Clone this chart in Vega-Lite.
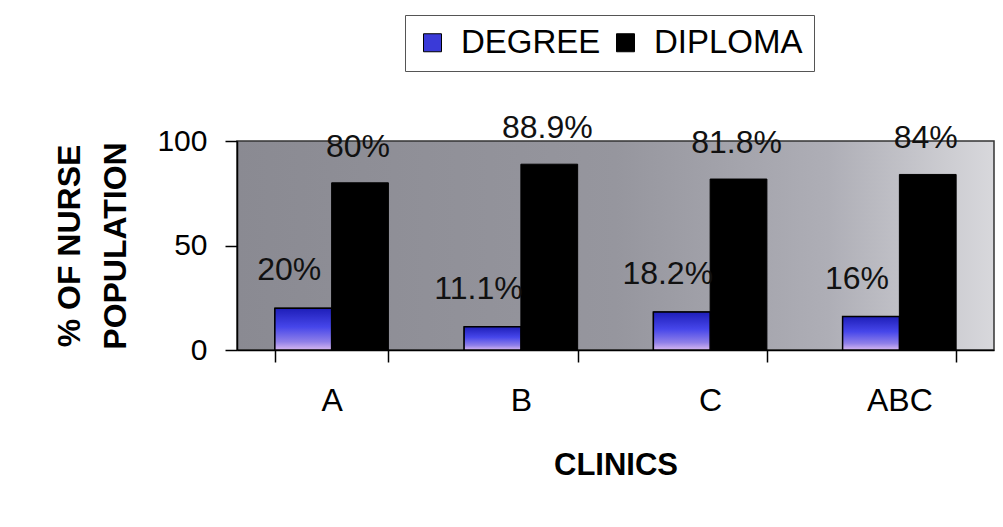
{
  "$schema": "https://vega.github.io/schema/vega-lite/v6.json",
  "width": 757,
  "height": 209,
  "autosize": {"type": "none"},
  "padding": {"left": 237, "top": 141, "right": 9, "bottom": 177},
  "background": "white",
  "config": {
    "font": "Liberation Sans",
    "view": {
      "stroke": "#333333",
      "strokeWidth": 1.5,
      "fill": {
        "gradient": "linear",
        "x1": 0, "y1": 0, "x2": 1, "y2": 0,
        "stops": [
          {"offset": 0, "color": "#8a8a92"},
          {"offset": 0.5, "color": "#96969e"},
          {"offset": 0.78, "color": "#aeaeb6"},
          {"offset": 1, "color": "#d8d8dc"}
        ]
      }
    },
    "axis": {"grid": false, "domainColor": "#000000", "tickColor": "#000000", "labelColor": "#000000", "titleColor": "#000000", "domainWidth": 1.5, "tickWidth": 1.5}
  },
  "data": {
    "values": [
      {"clinic": "A", "type": "DEGREE", "value": 20, "label": "20%"},
      {"clinic": "A", "type": "DIPLOMA", "value": 80, "label": "80%"},
      {"clinic": "B", "type": "DEGREE", "value": 11.1, "label": "11.1%"},
      {"clinic": "B", "type": "DIPLOMA", "value": 88.9, "label": "88.9%"},
      {"clinic": "C", "type": "DEGREE", "value": 18.2, "label": "18.2%"},
      {"clinic": "C", "type": "DIPLOMA", "value": 81.8, "label": "81.8%"},
      {"clinic": "ABC", "type": "DEGREE", "value": 16, "label": "16%"},
      {"clinic": "ABC", "type": "DIPLOMA", "value": 84, "label": "84%"}
    ]
  },
  "encoding": {
    "x": {
      "field": "clinic",
      "type": "nominal",
      "sort": ["A", "B", "C", "ABC"],
      "scale": {"paddingInner": 0.4, "paddingOuter": 0.2},
      "axis": {
        "title": "CLINICS",
        "titleFontSize": 31,
        "titleFontWeight": "bold",
        "titlePadding": 34,
        "labelFontSize": 32,
        "labelFontWeight": "normal",
        "labelAngle": 0,
        "labelPadding": 23,
        "tickSize": 12,
        "tickBand": "extent"
      }
    },
    "xOffset": {"field": "type", "type": "nominal", "sort": ["DEGREE", "DIPLOMA"]},
    "y": {
      "field": "value",
      "type": "quantitative",
      "scale": {"domain": [0, 100]},
      "axis": {
        "title": ["% OF NURSE", "POPULATION"],
        "titleFontSize": 32,
        "titleFontWeight": "bold",
        "titleLineHeight": 46,
        "titlePadding": 24,
        "values": [0, 50, 100],
        "labelFontSize": 30,
        "labelPadding": 18,
        "tickSize": 12
      }
    }
  },
  "layer": [
    {
      "mark": {"type": "bar", "stroke": "#000000", "strokeWidth": 1},
      "encoding": {
        "color": {
          "field": "type",
          "type": "nominal",
          "scale": {"domain": ["DEGREE", "DIPLOMA"], "range": ["#3a3ad8", "#000000"]},
          "legend": {
            "title": null,
            "orient": "none",
            "legendX": 168,
            "legendY": -126,
            "direction": "horizontal",
            "symbolType": "square",
            "symbolSize": 324,
            "symbolStrokeColor": "#000000",
            "symbolStrokeWidth": 1,
            "labelFontSize": 33,
            "labelColor": "#000000",
            "labelOffset": 12,
            "columnPadding": 8,
            "padding": 11,
            "fillColor": "white",
            "strokeColor": "#555555"
          }
        }
      }
    },
    {
      "transform": [{"filter": "datum.type === 'DEGREE'"}],
      "mark": {
        "type": "bar",
        "stroke": "#000000",
        "strokeWidth": 1.5,
        "fill": {
          "gradient": "linear",
          "x1": 0, "y1": 0, "x2": 0, "y2": 1,
          "stops": [
            {"offset": 0, "color": "#1e1eb8"},
            {"offset": 0.45, "color": "#4646ea"},
            {"offset": 0.8, "color": "#8f7fe8"},
            {"offset": 1, "color": "#d8b8f0"}
          ]
        }
      }
    },
    {
      "transform": [{"filter": "datum.type === 'DIPLOMA'"}],
      "mark": {"type": "text", "fontSize": 32, "color": "#111111", "baseline": "middle", "dy": -36, "dx": -2},
      "encoding": {"text": {"field": "label"}}
    },
    {
      "transform": [{"filter": "datum.type === 'DEGREE'"}],
      "mark": {"type": "text", "fontSize": 32, "color": "#111111", "baseline": "middle", "dy": -38, "dx": -14},
      "encoding": {"text": {"field": "label"}}
    }
  ]
}
